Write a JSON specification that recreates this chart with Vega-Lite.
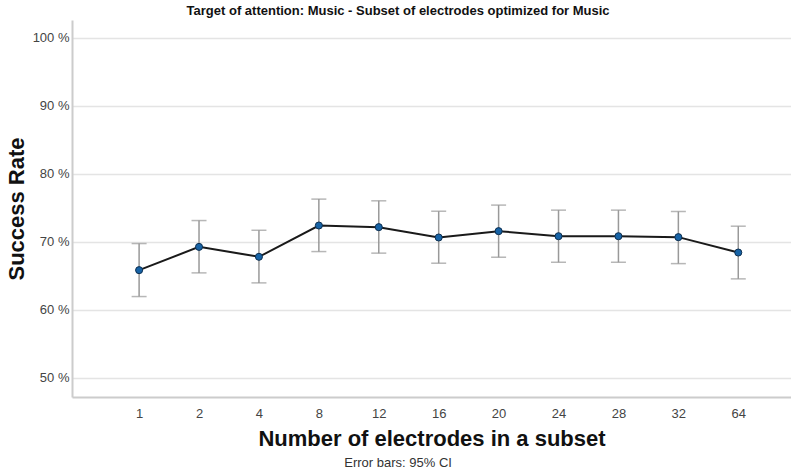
{
  "$schema": "https://vega.github.io/schema/vega-lite/v6.json",
  "padding": {"left": 5, "top": 5, "right": 0, "bottom": 5},
  "background": "white",
  "config": {
    "font": "Liberation Sans",
    "view": {"stroke": null},
    "concat": {"spacing": 0}
  },
  "title": {
    "text": "Target of attention: Music - Subset of electrodes optimized for Music",
    "fontSize": 13,
    "fontWeight": "bold",
    "color": "#111111",
    "anchor": "middle",
    "frame": "bounds",
    "offset": 2
  },
  "data": {
    "values": [
      {"electrodes": "1", "rate": 65.84, "lower": 61.96, "upper": 69.75},
      {"electrodes": "2", "rate": 69.26, "lower": 65.44, "upper": 73.13},
      {"electrodes": "4", "rate": 67.80, "lower": 63.97, "upper": 71.70},
      {"electrodes": "8", "rate": 72.40, "lower": 68.57, "upper": 76.28},
      {"electrodes": "12", "rate": 72.16, "lower": 68.34, "upper": 76.03},
      {"electrodes": "16", "rate": 70.64, "lower": 66.86, "upper": 74.50},
      {"electrodes": "20", "rate": 71.57, "lower": 67.74, "upper": 75.40},
      {"electrodes": "24", "rate": 70.83, "lower": 67.00, "upper": 74.66},
      {"electrodes": "28", "rate": 70.83, "lower": 67.00, "upper": 74.66},
      {"electrodes": "32", "rate": 70.69, "lower": 66.80, "upper": 74.46},
      {"electrodes": "64", "rate": 68.43, "lower": 64.56, "upper": 72.30}
    ]
  },
  "vconcat": [
    {
      "title": {
        "text": "Error bars: 95% CI",
        "orient": "bottom",
        "fontSize": 13,
        "fontWeight": "normal",
        "color": "#333333",
        "anchor": "middle",
        "frame": "bounds",
        "offset": 8
      },
      "width": 719,
      "height": 377,
      "encoding": {
        "x": {
          "field": "electrodes",
          "type": "ordinal",
          "sort": null,
          "scale": {"type": "point", "padding": 1.06, "align": 0.56},
          "axis": {
            "title": "Number of electrodes in a subset",
            "titleFontSize": 22,
            "titleFontWeight": "bold",
            "titleColor": "#111111",
            "titlePadding": 8,
            "labelAngle": 0,
            "labelFontSize": 13,
            "labelColor": "#444444",
            "labelPadding": 10,
            "ticks": false,
            "domainColor": "#cccccc",
            "domainWidth": 2,
            "grid": false
          }
        }
      },
      "layer": [
        {
          "mark": {"type": "errorbar", "ticks": {"size": 15, "color": "#999999", "thickness": 1.5}, "rule": {"color": "#999999", "strokeWidth": 1.5}},
          "encoding": {
            "y": {
              "field": "lower",
              "type": "quantitative",
              "scale": {"domain": [47.2, 102.6], "nice": false, "zero": false},
              "axis": {
                "title": "Success Rate",
                "titleFontSize": 22,
                "titleFontWeight": "bold",
                "titleColor": "#111111",
                "titlePadding": 4,
                "values": [50, 60, 70, 80, 90, 100],
                "labelExpr": "datum.value + ' %'",
                "labelFontSize": 13,
                "labelColor": "#444444",
                "labelPadding": 3,
                "ticks": false,
                "domainColor": "#cccccc",
                "domainWidth": 2,
                "gridColor": "#e4e4e4",
                "gridWidth": 1.5
              }
            },
            "y2": {"field": "upper"}
          }
        },
        {
          "mark": {"type": "line", "color": "#1a1a1a", "strokeWidth": 2},
          "encoding": {"y": {"field": "rate", "type": "quantitative"}}
        },
        {
          "mark": {"type": "point", "filled": true, "size": 50, "color": "#1763a6", "stroke": "#0d2f50", "strokeWidth": 1, "opacity": 1},
          "encoding": {"y": {"field": "rate", "type": "quantitative"}}
        }
      ]
    }
  ]
}
